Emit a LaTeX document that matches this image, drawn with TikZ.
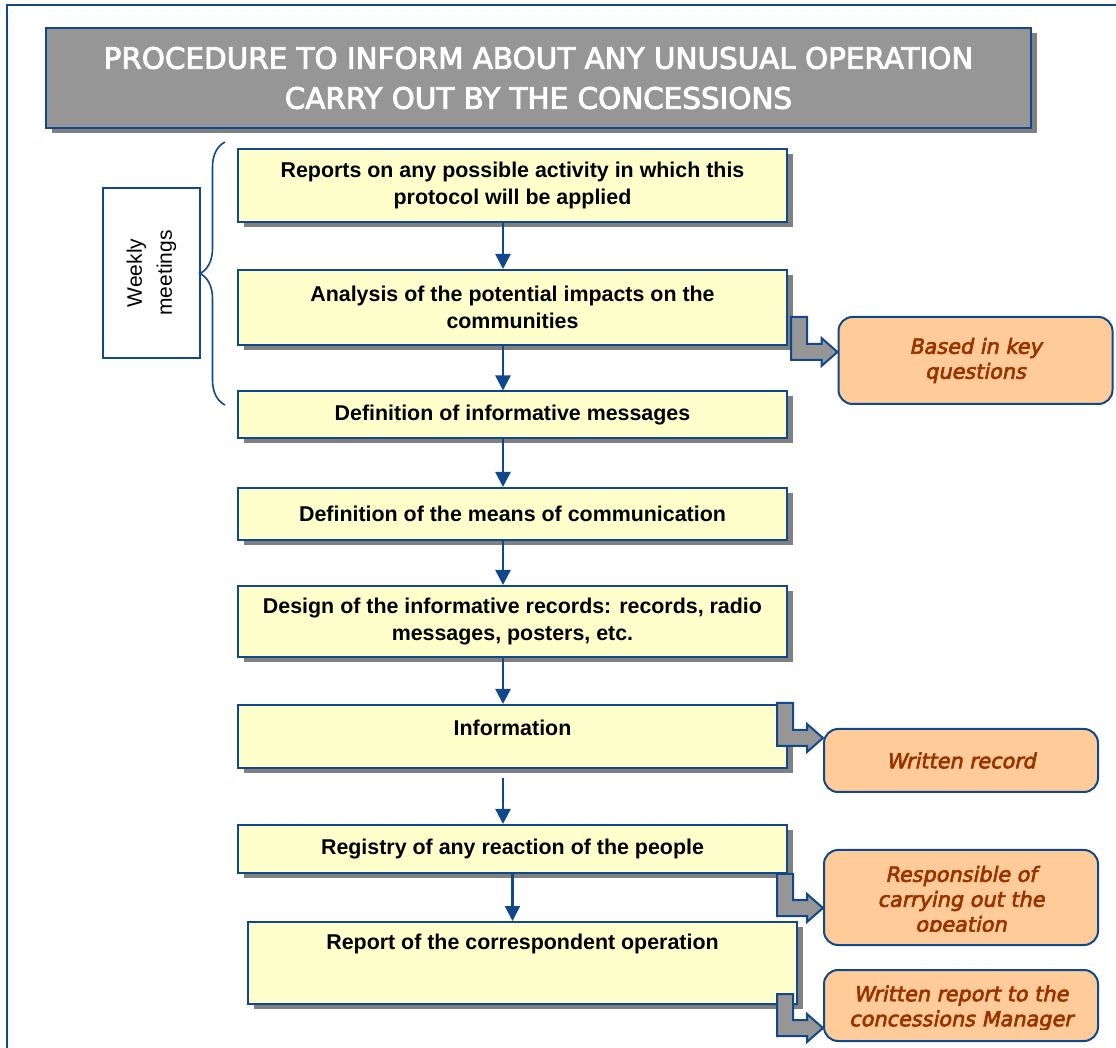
\documentclass[tikz,border=0pt]{standalone}
\usepackage{fontspec}
\setmainfont{Liberation Sans}
\newfontfamily\titlefont{DejaVu Sans}[FakeBold=3]
\newfontfamily\sidefont{DejaVu Sans}[FakeSlant=0.2,FakeBold=3]
\usetikzlibrary{arrows.meta,calc,shadows,decorations.pathreplacing}

\definecolor{lineblue}{RGB}{16,72,140}
\definecolor{stepyellow}{RGB}{255,255,204}
\definecolor{notefill}{RGB}{255,204,153}
\definecolor{notetext}{RGB}{153,51,0}
\definecolor{headgray}{RGB}{150,150,150}
\definecolor{shadegray}{RGB}{128,128,128}

% grey L-shaped block arrow: #1 = top left corner of the shaft, #2 = tip
\newcommand{\bentarrow}[2]{%
  \draw[blockarrow] let \p1=#1, \p2=#2 in
    (\x1,\y1) -- (\x1+8pt,\y1) -- (\x1+8pt,\y2+4pt) -- (\x2-8pt,\y2+4pt)
    -- (\x2-8pt,\y2+7pt) -- (\x2,\y2) -- (\x2-8pt,\y2-7pt) -- (\x2-8pt,\y2-4pt)
    -- (\x1,\y2-4pt) -- cycle;}

\begin{document}
\begin{tikzpicture}[x=0.5pt,y=-0.5pt]
\tikzstyle{shade}=[drop shadow={shadow xshift=3pt,shadow yshift=-2.5pt,fill=shadegray,opacity=1}]
\tikzstyle{stepbox}=[draw=lineblue,line width=1pt,fill=stepyellow,minimum width=274.5pt,align=center,inner sep=2pt,font=\fontsize{10.7}{13.5}\selectfont\bfseries,shade]
\tikzstyle{note}=[draw=lineblue,line width=1pt,fill=notefill,rounded corners=7pt,minimum width=137pt,align=center,text=notetext,font=\sidefont\fontsize{10.4}{12.5}\selectfont]
\tikzstyle{notetxt}=[align=center,text=notetext,font=\sidefont\fontsize{10.4}{12.5}\selectfont]
\tikzstyle{flow}=[draw=lineblue,line width=1.2pt,-{Triangle[length=7.5pt,width=7.5pt]}]
\tikzstyle{blockarrow}=[draw=lineblue,line width=1pt,fill=headgray]
\useasboundingbox (0,0) rectangle (1116,1048);

% frame and heading
\draw[lineblue,line width=1pt] (1116,5) -- (7,5) -- (7,1048);
\node[draw=lineblue,line width=1pt,fill=headgray,minimum width=492.5pt,minimum height=50pt,text=white,align=center,font=\titlefont\fontsize{14.7}{20}\selectfont,shade] (title) at (538.5,78) {PROCEDURE TO INFORM ABOUT ANY UNUSUAL OPERATION\\CARRY OUT BY THE CONCESSIONS};

% weekly meetings bracket
\node[draw=lineblue,line width=1pt,fill=white,rotate=90,minimum width=85pt,minimum height=48.5pt,align=center,font=\fontsize{10.5}{15}\selectfont] (week) at (151.5,273) {Weekly\\meetings};
\coordinate (brbot) at (225,405);
\coordinate (brtop) at (225,142);
\draw[lineblue,line width=0.8pt,decorate,decoration={brace,amplitude=12.5pt}] (brbot) -- (brtop);

% steps
\node[stepbox,minimum height=36.5pt] (reports) at (512.5,185.5) {Reports on any possible activity in which this\\protocol will be applied};
\node[stepbox,minimum height=37.5pt] (analysis) at (512.5,307.5) {Analysis of the potential impacts on the\\communities};
\node[stepbox,minimum height=23.5pt] (messages) at (512.5,415) {Definition of informative messages};
\node[stepbox,minimum height=26pt] (means) at (512.5,514) {Definition of the means of communication};
\node[stepbox,minimum height=35.5pt] (design) at (512.5,621.5) {Design of the informative records: records, radio\\messages, posters, etc.};
\node[stepbox,minimum height=31.5pt,text depth=8.5pt] (info) at (512.5,736.5) {Information};
\node[stepbox,minimum height=24pt] (registry) at (512.5,849) {Registry of any reaction of the people};
\node[stepbox,minimum height=41pt,text depth=21pt] (report) at (522.5,963) {Report of the correspondent operation};

\coordinate (ax) at (503,0);
\foreach \a/\b in {reports/analysis,analysis/messages,messages/means,means/design,design/info}
  \draw[flow] (ax |- \a.south) -- (ax |- \b.north);
\draw[flow,shorten <=4.5pt] (ax |- info.south) -- (ax |- registry.north);
\draw[flow] (registry.south) -- (registry.south |- report.north);

% outputs
\node[note,minimum height=43.5pt] (keyq) at (975.5,360.5) {Based in key\\questions};
\node[note,minimum height=31.5pt] (wrecord) at (961,760.5) {Written record};
\node[note,minimum height=47.5pt] (resp) at (961,897.5) {};
\node[note,minimum height=35.5pt] (wreport) at (961,1005.5) {};
\begin{scope}
  \clip (resp.north west) rectangle ($(resp.south east)+(0,-15)$);
  \node[notetxt] (resptxt) at (961,901) {Responsible of\\carrying out the\\opeation};
\end{scope}
\begin{scope}
  \clip (wreport.north west) rectangle ($(wreport.south east)+(0,-13)$);
  \node[notetxt] (wreporttxt) at (961,1008) {Written report to the\\concessions Manager};
\end{scope}

\bentarrow{($(analysis.east)+(3,9.5)$)}{($(keyq.west)+(0,-8.5)$)}
\bentarrow{($(info.north east)+(-11,-1)$)}{($(wrecord.west)+(0,-22.5)$)}
\bentarrow{($(registry.south east)+(-11,0)$)}{($(resp.west)+(0,10.5)$)}
\bentarrow{($(report.east)+(-21,31)$)}{($(wreport.west)+(0,22.5)$)}
\end{tikzpicture}
\end{document}
